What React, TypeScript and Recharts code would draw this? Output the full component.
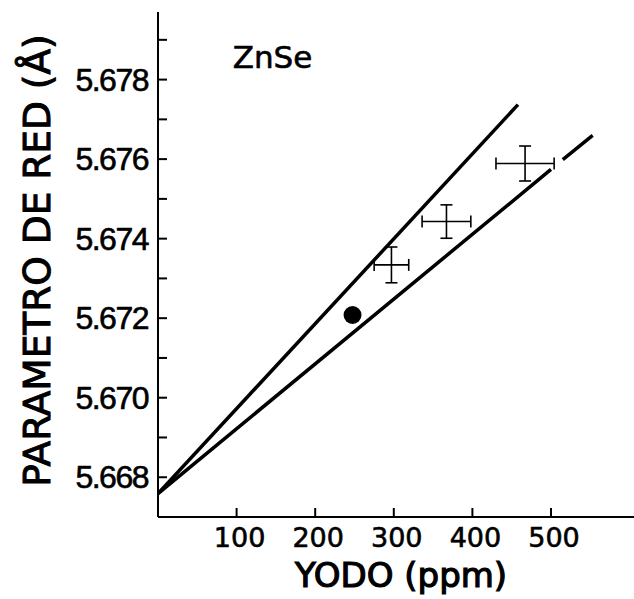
import {
  ComposedChart, Line, Scatter, XAxis, YAxis, ErrorBar, ReferenceDot,
} from 'recharts'

// iodine content (ppm) vs lattice parameter (Å)
const xTicks = [100, 200, 300, 400, 500]
const yTicks = [5.668, 5.669, 5.67, 5.671, 5.672, 5.673, 5.674, 5.675, 5.676, 5.677, 5.678, 5.679]

const crossX = [297, 367, 467]
const crossY = [5.67334, 5.67443, 5.67589]
const crossErrX = [22, 31, 37]
const crossErrY = [0.00045, 0.00042, 0.00044]

const dotX = [247.5]
const dotY = [5.67208]

const upperX = [0, 458]
const upperY = [5.66759, 5.67737]

// the lower line is broken where it meets the last error bar
const lowerX = [0, 500, 507, 515, 553]
const lowerY: (number | null)[] = [5.66759, 5.67574, null, 5.67599, 5.6766]

const crosses = crossX.map((x, i) => ({ x, y: crossY[i], ex: crossErrX[i], ey: crossErrY[i] }))
const dots = dotX.map((x, i) => ({ x, y: dotY[i] }))
const upper = upperX.map((x, i) => ({ x, y: upperY[i] }))
const lower = lowerX.map((x, i) => ({ x, y: lowerY[i] }))

const FONT = '"DejaVu Sans", sans-serif'

function YTick({ x, y, payload, index }: any) {
  const major = index % 2 === 0
  return (
    <g>
      <line x1={x} y1={y} x2={x + 9} y2={y} stroke="#000" strokeWidth={2} />
      {major && (
        <text
          x={x - 10}
          y={y + 11}
          textAnchor="end"
          fontFamily='"Liberation Sans", sans-serif'
          fontSize={32}
          letterSpacing={-1.5}
          fill="#000"
          stroke="#000"
          strokeWidth={0.6}
        >
          {payload.value.toFixed(3)}
        </text>
      )}
    </g>
  )
}

function XTick({ x, y, payload }: any) {
  return (
    <g>
      <line x1={x} y1={y} x2={x} y2={y - 9} stroke="#000" strokeWidth={2} />
      <text
        x={x + 3}
        y={y + 30}
        textAnchor="middle"
        fontFamily={FONT}
        fontSize={27}
        fill="#000"
        stroke="#000"
        strokeWidth={0.6}
      >
        {payload.value}
      </text>
    </g>
  )
}

function YTitle({ viewBox }: any) {
  const cx = 50
  const cy = viewBox.y + viewBox.height / 2 - 4
  return (
    <text
      x={cx}
      y={cy}
      transform={`rotate(-90, ${cx}, ${cy})`}
      textAnchor="middle"
      fontFamily={FONT}
      fontSize={37.5}
      fill="#000"
      stroke="#000"
      strokeWidth={1}
    >
      PARAMETRO DE RED (Å)
    </text>
  )
}

function XTitle({ viewBox }: any) {
  return (
    <text
      x={viewBox.x + viewBox.width / 2 + 5}
      y={587}
      textAnchor="middle"
      fontFamily={FONT}
      fontSize={34}
      fill="#000"
      stroke="#000"
      strokeWidth={1.2}
    >
      YODO (ppm)
    </text>
  )
}

export default function App() {
  return (
    <div style={{ position: 'absolute', left: 0, top: 0, background: '#fff' }}>
      <ComposedChart width={634} height={599} margin={{ top: 12, right: 0, bottom: 0, left: 0 }}>
        <XAxis
          type="number"
          dataKey="x"
          domain={[0, 605.6]}
          ticks={xTicks}
          allowDataOverflow
          height={82}
          tickSize={0}
          tickMargin={0}
          tickLine={false}
          tick={<XTick />}
          axisLine={{ stroke: '#000', strokeWidth: 2 }}
          label={{ content: XTitle }}
        />
        <YAxis
          type="number"
          dataKey="y"
          domain={[5.667, 5.6797]}
          ticks={yTicks}
          allowDataOverflow
          width={158}
          tickSize={0}
          tickMargin={0}
          tickLine={false}
          tick={<YTick />}
          interval={0}
          axisLine={{ stroke: '#000', strokeWidth: 2 }}
          label={{ content: YTitle }}
        />
        <Line
          data={upper}
          dataKey="y"
          type="linear"
          stroke="#000"
          strokeWidth={3.5}
          dot={false}
          activeDot={false}
          isAnimationActive={false}
        />
        <Line
          data={lower}
          dataKey="y"
          type="linear"
          stroke="#000"
          strokeWidth={3.5}
          dot={false}
          activeDot={false}
          connectNulls={false}
          isAnimationActive={false}
        />
        <Scatter data={crosses} dataKey="y" shape={() => <g />} isAnimationActive={false}>
          <ErrorBar dataKey="ex" direction="x" width={6} stroke="#000" strokeWidth={1.6} />
          <ErrorBar dataKey="ey" direction="y" width={6} stroke="#000" strokeWidth={1.6} />
        </Scatter>
        <Scatter
          data={dots}
          dataKey="y"
          shape={(p: any) => <circle cx={p.cx} cy={p.cy} r={9} fill="#000" />}
          isAnimationActive={false}
        />
        <ReferenceDot
          x={95}
          y={5.67828}
          r={0}
          shape={(p: any) => (
            <text
              x={p.cx}
              y={p.cy}
              fontFamily={FONT}
              fontSize={31}
              fill="#000"
              stroke="#000"
              strokeWidth={0.6}
            >
              ZnSe
            </text>
          )}
        />
      </ComposedChart>
    </div>
  )
}
